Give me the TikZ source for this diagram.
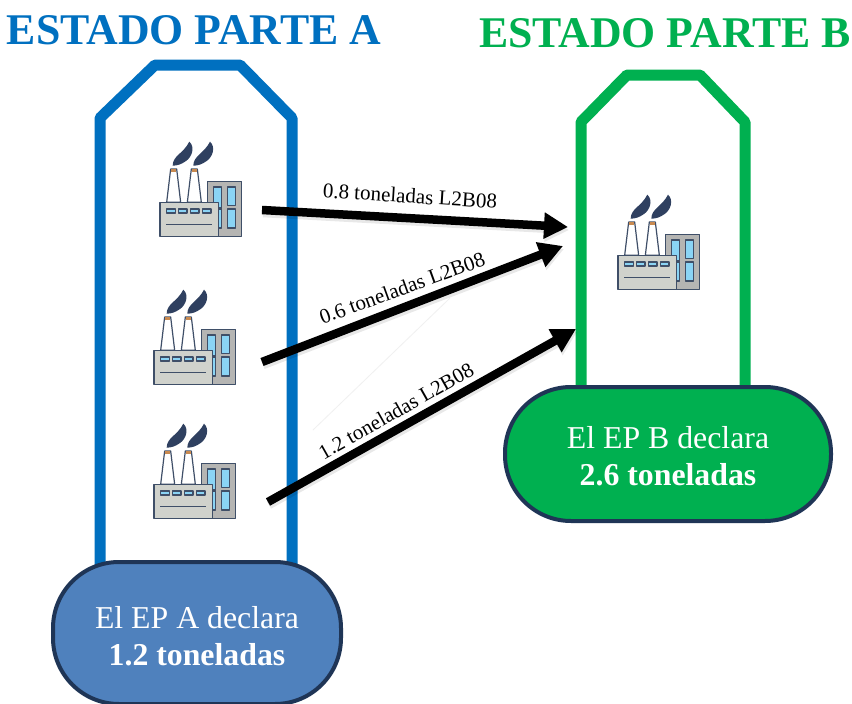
\documentclass[tikz,border=0pt]{standalone}
\usepackage{fontspec}
\setmainfont{Liberation Serif}
\usetikzlibrary{arrows.meta}
\definecolor{bluev}{HTML}{0070C0}
\definecolor{greenv}{HTML}{00B050}
\definecolor{pillblue}{HTML}{4F81BD}
\definecolor{navy}{HTML}{1F3556}
\definecolor{fdark}{HTML}{3F4F68}
\definecolor{fgray}{HTML}{D0D2CC}
\definecolor{fgrayb}{HTML}{B5B5B3}
\definecolor{fwin}{HTML}{8AD4F5}
\definecolor{fcap}{HTML}{C98A50}
\definecolor{smoke}{HTML}{2F4060}
\tikzset{
  vessel/.style={line width=11pt,line join=round,fill=white},
  pill/.style={draw=navy,line width=4pt,text=white,align=center,rounded corners=66pt,inner sep=0pt,font=\fontsize{31.8}{37}\selectfont},
  title/.style={inner sep=0pt,font=\fontsize{43.8}{44}\selectfont\bfseries},
  arrowline/.style={line width=8.5pt,-{Triangle[length=24pt,width=25pt]},black},
  arrowshadow/.style={line width=8.5pt,-{Triangle[length=24pt,width=25pt]},black,opacity=.09},
  flabel/.style={inner sep=0pt,font=\fontsize{21}{21}\selectfont},
  fpart/.style={draw=fdark,line width=1.2pt,line join=round},
  factory/.pic={
    \begin{scope}[x=1pt/3,y=-1pt/3]
    \draw[fpart,fill=fgrayb] (142,25) rectangle (245,190);
    \foreach \a/\b/\c/\d in {160/42/185/105, 202/42/227/98, 202/108/227/165, 160/108/185/165}
      \draw[fpart,fill=fwin] (\a,\b) rectangle (\c,\d);
    \foreach \s in {0,62}{
      \begin{scope}[xshift=\s*1pt/3]
      \draw[fpart,fill=white] (20,88) -- (32,-12) -- (50,-12) -- (62,88) -- cycle;
      \fill[fcap] (33,-12) rectangle (49,-4);
      \fill[smoke] (38,-22) .. controls (38,-52) and (70,-58) .. (88,-94)
         .. controls (106,-78) and (96,-48) .. (78,-36) .. controls (64,-26) and (52,-22) .. (38,-22) -- cycle;
      \end{scope}}
    \draw[fpart,fill=fgray] (0,88) rectangle (175,190);
    \foreach \a in {20,55,91,127}
      \draw[fpart,fill=fwin] (\a,108) rectangle ++(26,12);
    \draw[fdark,line width=1.2pt] (18,154) -- (155,154);
    \end{scope}
  }
}
\begin{document}
\begin{tikzpicture}[x=1pt,y=-1pt]
\useasboundingbox (0,0) rectangle (852,704);
\fill[white] (0,0) rectangle (852,704);
% titles
\node[title,text=bluev,anchor=base] (ta) at (194,44) {ESTADO PARTE A};
\node[title,text=greenv,anchor=base] (tb) at (665,47) {ESTADO PARTE B};
% vessels
\draw[vessel,draw=bluev] (100,570) -- (100,118) -- (155,65) -- (240,65) -- (292,118) -- (292,570);
\draw[vessel,draw=greenv] (581,390) -- (581,122) -- (627,75) -- (700,75) -- (745,122) -- (745,390);
% faint stray line
\draw[black!6,line width=.8pt] (450,298) -- (313,430);
% pills
\node[pill,fill=pillblue,minimum width=288pt,minimum height=142pt] (pa) at (197,633) {\rule{0pt}{27.6pt}El EP A declara\\\textbf{1.2 toneladas}};
\node[pill,fill=greenv,minimum width=326pt,minimum height=134pt] (pb) at (668,454) {\rule{0pt}{25.6pt}El EP B declara\\\textbf{2.6 toneladas}};
% factories
\pic at (160,173) {factory};
\pic at (154,321) {factory};
\pic at (154,455) {factory};
\pic at (618,226) {factory};
% connector ends
\coordinate (s1) at (262,210); \coordinate (e1) at (568,227);
\coordinate (s2) at (262,362); \coordinate (e2) at (563,246);
\coordinate (s3) at (268,502); \coordinate (e3) at (576,329);
% shadows
\draw[arrowshadow] ([shift={(1,3)}]s1) -- ([shift={(1,3)}]e1);
\draw[arrowshadow] ([shift={(1,3)}]s2) -- ([shift={(1,3)}]e2);
\draw[arrowshadow] ([shift={(1,3)}]s3) -- ([shift={(1,3)}]e3);
% arrows
\draw[arrowline] (s1) -- (e1);
\draw[arrowline] (s2) -- (e2);
\draw[arrowline] (s3) -- (e3);
% labels
\node[flabel,rotate=-3.6] (l1) at (410,196) {0.8 toneladas L2B08};
\node[flabel,rotate=20] (l2) at (402,288) {0.6 toneladas L2B08};
\node[flabel,rotate=29.5] (l3) at (396,411) {1.2 toneladas L2B08};
\end{tikzpicture}
\end{document}
